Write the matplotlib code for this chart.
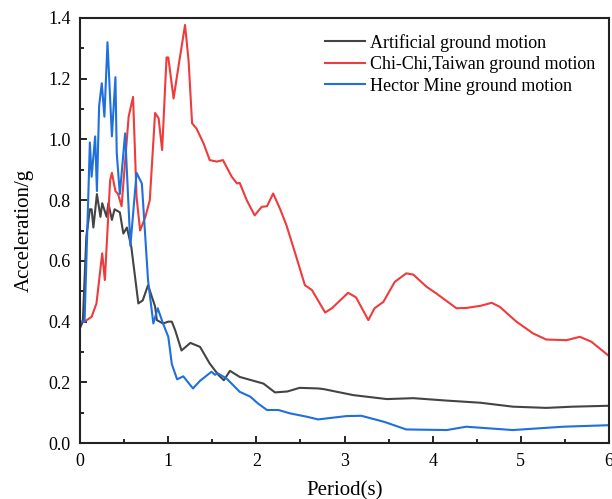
import matplotlib.pyplot as plt
from matplotlib.ticker import MultipleLocator

# --- data (period in s, acceleration in g) ---
art_t = [0.0, 0.03, 0.07, 0.11, 0.13, 0.15, 0.19, 0.23, 0.25, 0.30, 0.32, 0.36, 0.39,
         0.45, 0.49, 0.53, 0.58, 0.66, 0.71, 0.77, 0.85, 0.87, 0.94, 1.0, 1.04,
         1.08, 1.15, 1.25, 1.36, 1.47, 1.57, 1.63, 1.70, 1.81, 2.08, 2.21, 2.35, 2.49,
         2.70, 2.76, 3.10, 3.48, 3.78, 4.16, 4.54, 4.91, 5.29, 5.59, 6.0]
art_a = [0.38, 0.40, 0.68, 0.77, 0.77, 0.71, 0.82, 0.745, 0.79, 0.745, 0.79, 0.735, 0.77,
         0.76, 0.69, 0.71, 0.647, 0.46, 0.47, 0.52, 0.45, 0.405, 0.394, 0.40, 0.40,
         0.37, 0.305, 0.33, 0.317, 0.262, 0.224, 0.207, 0.238, 0.218, 0.196, 0.167, 0.17, 0.182,
         0.18, 0.178, 0.158, 0.145, 0.148, 0.14, 0.133, 0.12, 0.116, 0.12, 0.123]

chi_t = [0.0, 0.05, 0.13, 0.185, 0.25, 0.28, 0.34, 0.36, 0.40, 0.43, 0.47, 0.55,
         0.60, 0.64, 0.68, 0.74, 0.79, 0.85, 0.89, 0.93, 0.98, 1.0, 1.06, 1.11, 1.19,
         1.23, 1.27, 1.32, 1.40, 1.47, 1.55, 1.62, 1.72, 1.78, 1.81, 1.89, 1.98, 2.06,
         2.12, 2.19, 2.27, 2.34, 2.44, 2.55, 2.63, 2.78, 2.86, 3.04, 3.13, 3.27, 3.34,
         3.44, 3.57, 3.70, 3.78, 3.93, 4.04, 4.27, 4.38, 4.54, 4.67, 4.76, 4.95, 5.14,
         5.29, 5.52, 5.67, 5.80, 6.0]
chi_a = [0.40, 0.40, 0.416, 0.46, 0.625, 0.537, 0.865, 0.89, 0.83, 0.82, 0.78, 1.075,
         1.14, 0.81, 0.70, 0.745, 0.80, 1.087, 1.07, 0.965, 1.27, 1.27, 1.135, 1.23, 1.377,
         1.26, 1.053, 1.036, 0.987, 0.932, 0.927, 0.932, 0.877, 0.855, 0.857, 0.80, 0.75, 0.778,
         0.78, 0.822, 0.77, 0.718, 0.625, 0.52, 0.504, 0.43, 0.445, 0.495, 0.48, 0.405, 0.444,
         0.465, 0.531, 0.559, 0.555, 0.515, 0.493, 0.444, 0.445, 0.452, 0.462, 0.449, 0.40, 0.361,
         0.341, 0.339, 0.35, 0.334, 0.287]

hec_t = [0.0, 0.05, 0.11, 0.13, 0.17, 0.19, 0.215, 0.245, 0.275, 0.31, 0.36, 0.40, 0.415,
         0.45, 0.51, 0.57, 0.64, 0.70, 0.77, 0.83, 0.88, 0.94, 1.0, 1.04, 1.10, 1.17,
         1.28, 1.36, 1.49, 1.53, 1.56, 1.66, 1.81, 1.93, 2.02, 2.12, 2.25, 2.38, 2.57, 2.70,
         3.02, 3.19, 3.45, 3.70, 4.16, 4.38, 4.91, 5.48, 6.0]
hec_a = [0.40, 0.40, 0.99, 0.877, 1.01, 0.83, 1.11, 1.185, 1.075, 1.32, 1.01, 1.205, 0.955,
         0.82, 1.02, 0.65, 0.89, 0.855, 0.537, 0.394, 0.444, 0.394, 0.35, 0.26, 0.21, 0.22,
         0.18, 0.205, 0.235, 0.225, 0.23, 0.213, 0.169, 0.153, 0.13, 0.109, 0.109, 0.098, 0.087,
         0.078, 0.089, 0.09, 0.07, 0.045, 0.043, 0.054, 0.043, 0.054, 0.059]

labels = ['Artificial ground motion', 'Chi-Chi,Taiwan ground motion', 'Hector Mine ground motion']
colors = ['#444444', '#ee3b3b', '#1f6fdf']

plt.rcParams['font.family'] = ['Liberation Serif', 'DejaVu Serif']

fig = plt.figure(figsize=(6.12, 4.99), dpi=100)
ax = fig.add_axes([0.131, 0.112, 0.864, 0.852])

for t, a, c, lab in zip([art_t, chi_t, hec_t], [art_a, chi_a, hec_a], colors, labels):
    ax.plot(t, a, color=c, lw=1.5, label=lab, solid_joinstyle='round')

ax.set_xlim(0, 6)
ax.set_ylim(0, 1.4)
ax.xaxis.set_major_locator(MultipleLocator(1))
ax.xaxis.set_minor_locator(MultipleLocator(0.5))
ax.yaxis.set_major_locator(MultipleLocator(0.2))
ax.yaxis.set_minor_locator(MultipleLocator(0.1))
ax.yaxis.set_major_formatter(plt.FormatStrFormatter('%.1f'))
ax.tick_params(which='both', direction='in', top=False, right=False, labelsize=13, width=1.2)
ax.tick_params(which='major', length=5, pad=7)
ax.tick_params(which='minor', length=3)
for s in ax.spines.values():
    s.set_linewidth(1.5)
    s.set_color('#222222')

ax.set_xlabel('Period(s)', fontsize=15, labelpad=8)
ax.set_ylabel('Acceleration/g', fontsize=15, labelpad=10)
ax.legend(loc='upper right', fontsize=13, frameon=False, handlelength=2.2,
          handletextpad=0.3, labelspacing=0.25, borderaxespad=0.35,
          bbox_to_anchor=(1.0, 0.995))

fig.savefig('out.png', dpi=100)
